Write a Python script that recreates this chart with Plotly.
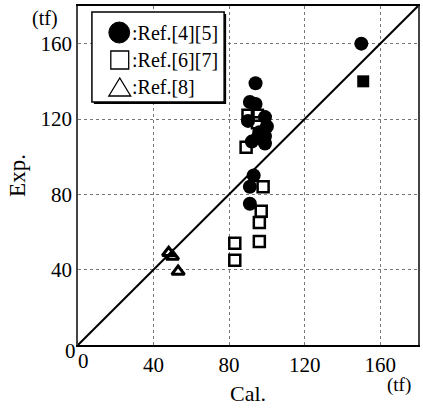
import plotly.graph_objects as go

# Data (tf)
ref45_cal = [150, 94, 91, 94, 99, 100, 90, 96, 95, 92, 99, 99, 93, 91, 91]
ref45_exp = [160, 139, 129, 128, 121, 116, 119, 113, 110, 108, 111, 107, 90, 84, 75]

ref67_cal = [90, 95, 95, 89, 98, 97, 96, 96, 83, 83]
ref67_exp = [122, 122, 118, 105, 84, 71, 65, 55, 54, 45]

ref67_filled_cal = [151]
ref67_filled_exp = [140]

ref8_cal = [48, 50, 53]
ref8_exp = [49, 47, 39]

tick_vals = [40, 80, 120, 160]
axis_max = 180

FONT = "Liberation Serif, Times New Roman, serif"

fig = go.Figure()

# 1:1 line
fig.add_trace(go.Scatter(x=[0, axis_max], y=[0, axis_max], mode="lines",
                         line=dict(color="black", width=2), showlegend=False,
                         hoverinfo="skip"))

fig.add_trace(go.Scatter(x=ref67_cal, y=ref67_exp, mode="markers",
                         marker=dict(symbol="square-open", size=11, color="black",
                                     line=dict(width=2.5, color="black")),
                         showlegend=False))
fig.add_trace(go.Scatter(x=ref67_filled_cal, y=ref67_filled_exp, mode="markers",
                         marker=dict(symbol="square", size=12, color="black"),
                         showlegend=False))
fig.add_trace(go.Scatter(x=ref45_cal, y=ref45_exp, mode="markers",
                         marker=dict(symbol="circle", size=14, color="black"),
                         showlegend=False))
fig.add_trace(go.Scatter(x=ref8_cal, y=ref8_exp, mode="markers",
                         marker=dict(symbol="triangle-up-open", size=11, color="black",
                                     line=dict(width=3, color="black")),
                         showlegend=False))

L, R, T, B = 78, 3, 6, 67
W, H = 423, 412
pw, ph = W - L - R, H - T - B


def px(xp):
    return (xp - L) / pw


def py(yp):
    return (H - B - yp) / ph


shapes = []
# legend box with shadow
shapes.append(dict(type="rect", xref="paper", yref="paper",
                   x0=px(94), x1=px(227), y0=py(104), y1=py(14),
                   fillcolor="black", line=dict(width=0), layer="above"))
shapes.append(dict(type="rect", xref="paper", yref="paper",
                   x0=px(92), x1=px(225), y0=py(102), y1=py(12),
                   fillcolor="white", line=dict(color="black", width=1.5), layer="above"))
# legend markers
shapes.append(dict(type="circle", xref="paper", yref="paper",
                   x0=px(109), x1=px(130), y0=py(43), y1=py(22),
                   fillcolor="black", line=dict(color="black", width=1), layer="above"))
shapes.append(dict(type="rect", xref="paper", yref="paper",
                   x0=px(111), x1=px(129), y0=py(69), y1=py(51),
                   fillcolor="white", line=dict(color="black", width=1.3), layer="above"))
shapes.append(dict(type="path", xref="paper", yref="paper",
                   path=f"M {px(120)} {py(78)} L {px(109)} {py(96)} L {px(131)} {py(96)} Z",
                   fillcolor="white", line=dict(color="black", width=1.3), layer="above"))

annotations = []
for txt, yc in [(":Ref.[4][5]", 33), (":Ref.[6][7]", 60), (":Ref.[8]", 87)]:
    annotations.append(dict(text=txt, xref="paper", yref="paper", x=px(130), y=py(yc),
                            xanchor="left", yanchor="middle", showarrow=False,
                            font=dict(family=FONT, size=20, color="black")))
annotations += [
    dict(text="(tf)", xref="paper", yref="paper", x=px(45), y=py(18), showarrow=False,
         xanchor="center", yanchor="middle", font=dict(family=FONT, size=20, color="black")),
    dict(text="(tf)", xref="paper", yref="paper", x=px(401), y=py(385), showarrow=False,
         xanchor="center", yanchor="middle", font=dict(family=FONT, size=19, color="black")),
    dict(text="0", xref="paper", yref="paper", x=px(70), y=py(351), showarrow=False,
         xanchor="center", yanchor="middle", font=dict(family=FONT, size=21, color="black")),
    dict(text="0", xref="paper", yref="paper", x=px(84), y=py(361), showarrow=False,
         xanchor="center", yanchor="middle", font=dict(family=FONT, size=21, color="black")),
]

fig.update_layout(
    width=W, height=H,
    margin=dict(l=L, r=R, t=T, b=B),
    paper_bgcolor="white", plot_bgcolor="white",
    font=dict(family=FONT, size=21, color="black"),
    shapes=shapes, annotations=annotations,
    showlegend=False,
)
fig.update_xaxes(range=[0, axis_max], tickvals=tick_vals, showgrid=True,
                 gridcolor="#777", griddash="dot", gridwidth=1,
                 showline=True, linecolor="black", linewidth=1.5, mirror=True,
                 ticks="", zeroline=False, tickfont=dict(family=FONT, size=21),
                 title=dict(text="Cal.", font=dict(family=FONT, size=22), standoff=10))
fig.update_yaxes(range=[0, axis_max], tickvals=tick_vals, showgrid=True,
                 gridcolor="#777", griddash="dot", gridwidth=1,
                 showline=True, linecolor="#444", linewidth=1.5, mirror=True,
                 ticks="", zeroline=False, tickfont=dict(family=FONT, size=21),
                 ticklabelstandoff=0,
                 title=dict(text="Exp.", font=dict(family=FONT, size=23), standoff=8))

fig.write_html("out.html")
